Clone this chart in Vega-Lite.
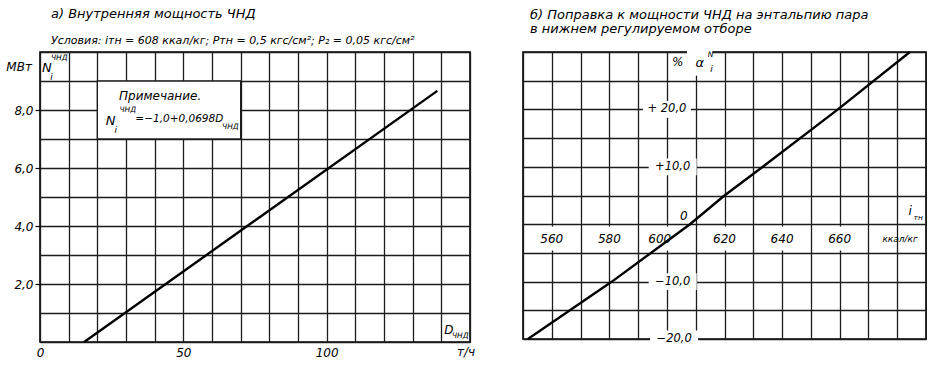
{
  "$schema": "https://vega.github.io/schema/vega-lite/v6.json",
  "padding": {"top": 7, "left": 0, "right": 0, "bottom": 0},
  "background": "white",
  "spacing": 46,
  "config": {
    "font": "DejaVu Sans",
    "view": {"stroke": "#000", "strokeWidth": 1.6},
    "axis": {"gridColor": "#1c1c1c", "gridWidth": 1.3, "gridOpacity": 1, "domain": false, "labelFont": "DejaVu Sans", "labelFontStyle": "italic", "labelColor": "#000", "labelFontSize": 12, "labelOverlap": false},
    "text": {"font": "DejaVu Sans", "fontStyle": "italic", "color": "#000"},
    "title": {"font": "DejaVu Sans", "fontStyle": "italic", "fontWeight": "normal", "color": "#000", "subtitleFont": "DejaVu Sans", "subtitleFontStyle": "italic", "subtitleColor": "#000"}
  },
  "datasets": {
    "lline": [{"x": 15.4, "y": 0}, {"x": 138.6, "y": 8.66}],
    "lbox": [{"x": 20, "x2": 70, "y": 7, "y2": 9}],
    "lann": [
      {"x": -7.3, "y": 9.48, "text": "МВт", "kind": "main"},
      {"x": 2.4, "y": 9.45, "text": "N", "kind": "big"},
      {"x": 4.0, "y": 9.15, "text": "i", "kind": "sub"},
      {"x": 6.7, "y": 9.8, "text": "ЧНД", "kind": "sup"},
      {"x": 41.9, "y": 8.5, "text": "Примечание.", "kind": "main"},
      {"x": 24.6, "y": 7.63, "text": "N", "kind": "big"},
      {"x": 26.4, "y": 7.3, "text": "i", "kind": "sub"},
      {"x": 30.6, "y": 8.0, "text": "ЧНД", "kind": "sup"},
      {"x": 48.6, "y": 7.68, "text": "=−1,0+0,0698D", "kind": "mid"},
      {"x": 66.4, "y": 7.42, "text": "ЧНД", "kind": "sup"},
      {"x": 142.6, "y": 0.41, "text": "D", "kind": "main"},
      {"x": 146.6, "y": 0.2, "text": "ЧНД", "kind": "sup"},
      {"x": 148.6, "y": -0.36, "text": "т/ч", "kind": "main"}
    ],
    "rline": [{"x": 551.7, "y": -20}, {"x": 580.9, "y": -10}, {"x": 608, "y": 0}, {"x": 620, "y": 5}, {"x": 633.3, "y": 10}, {"x": 659.4, "y": 20}, {"x": 684.4, "y": 30}],
    "rx": [
      {"x": 560, "y": -2.5, "text": "560"},
      {"x": 580, "y": -2.5, "text": "580"},
      {"x": 597.5, "y": -2.5, "text": "600"},
      {"x": 620, "y": -2.5, "text": "620"},
      {"x": 640, "y": -2.5, "text": "640"},
      {"x": 660, "y": -2.5, "text": "660"}
    ],
    "ry": [
      {"x": 600, "y": 20, "text": "+ 20,0"},
      {"x": 602, "y": 10, "text": "+10,0"},
      {"x": 602, "y": -10, "text": "−10,0"},
      {"x": 602.5, "y": -20, "text": "−20,0"}
    ],
    "rann": [
      {"x": 605.9, "y": 1.4, "text": "0", "kind": "main"},
      {"x": 684.5, "y": 2.3, "text": "i", "kind": "main"},
      {"x": 687.3, "y": 1.0, "text": "тн", "kind": "sup"},
      {"x": 681, "y": -2.5, "text": "ккал/кг", "kind": "sub"},
      {"x": 603.7, "y": 28.3, "text": "%", "kind": "main"},
      {"x": 611.4, "y": 28.1, "text": "α", "kind": "big"},
      {"x": 615.2, "y": 29.5, "text": "N", "kind": "sup"},
      {"x": 615.5, "y": 27.1, "text": "i", "kind": "sub"}
    ],
    "raxis": [{"x": 608}]
  },
  "hconcat": [
    {
      "width": 430,
      "height": 290,
      "title": {"text": "а) Внутренняя мощность ЧНД", "subtitle": "Условия: iтн = 608 ккал/кг;  Pтн = 0,5 кгс/см²;  P₂ = 0,05 кгс/см²", "anchor": "start", "frame": "group", "dx": 11, "fontSize": 13, "subtitleFontSize": 11, "subtitlePadding": 14, "offset": 0},
      "encoding": {
        "x": {"field": "x", "type": "quantitative", "scale": {"domain": [0, 150], "nice": false, "zero": false},
          "axis": {"title": null, "values": [0, 10, 20, 30, 40, 50, 60, 70, 80, 90, 100, 110, 120, 130, 140, 150], "grid": true, "ticks": false, "labelPadding": 5, "labelFlush": false,
            "labelExpr": "datum.value == 0 || datum.value == 50 || datum.value == 100 ? toString(datum.value) : ''"}},
        "y": {"field": "y", "type": "quantitative", "scale": {"domain": [0, 10], "nice": false},
          "axis": {"title": null, "values": [0, 1, 2, 3, 4, 5, 6, 7, 8, 9, 10], "grid": true, "ticks": true, "tickSize": 5, "tickColor": "#000", "tickWidth": 1.2,
            "tickOpacity": {"condition": {"test": "datum.value % 2 == 0 && datum.value > 0 && datum.value < 10", "value": 1}, "value": 0},
            "labelPadding": 2, "minExtent": 39, "maxExtent": 39, "labelFlush": false,
            "labelExpr": "datum.value % 2 == 0 && datum.value > 0 && datum.value < 10 ? replace(format(datum.value, '.1f'), '.', ',') : ''"}}
      },
      "layer": [
        {"data": {"name": "lbox"}, "mark": {"type": "rect", "fill": "white", "stroke": "#1c1c1c", "strokeWidth": 1.3}, "encoding": {"x2": {"field": "x2"}, "y2": {"field": "y2"}}},
        {"data": {"name": "lline"}, "mark": {"type": "line", "color": "#000", "strokeWidth": 2.4}, "encoding": {}},
        {"data": {"name": "lann"}, "mark": {"type": "text", "align": "center", "baseline": "middle"},
          "encoding": {"text": {"field": "text"}, "size": {"field": "kind", "type": "ordinal", "scale": {"type": "ordinal", "domain": ["big", "main", "mid", "sub", "sup"], "range": [13, 12, 10.5, 9, 7.5]}, "legend": null}}}
      ]
    },
    {
      "width": 403,
      "height": 287,
      "title": {"text": ["б) Поправка к мощности ЧНД на энтальпию пара", "\u00a0\u00a0в нижнем регулируемом отборе"], "anchor": "start", "frame": "group", "dx": 7, "fontSize": 13, "lineHeight": 14, "offset": 11},
      "encoding": {
        "x": {"field": "x", "type": "quantitative", "scale": {"domain": [550, 690], "nice": false, "zero": false},
          "axis": {"title": null, "values": [550, 560, 570, 580, 590, 600, 610, 620, 630, 640, 650, 660, 670, 680, 690], "grid": true, "ticks": false, "labels": false, "minExtent": 0, "maxExtent": 0}},
        "y": {"field": "y", "type": "quantitative", "scale": {"domain": [-20, 30], "nice": false, "zero": false},
          "axis": {"title": null, "values": [-20, -15, -10, -5, 0, 5, 10, 15, 20, 25, 30], "grid": true, "ticks": false, "labels": false, "minExtent": 0, "maxExtent": 0}}
      },
      "layer": [
        {"data": {"name": "rx"}, "mark": {"type": "point", "shape": "square", "size": 576, "filled": true, "fill": "white", "opacity": 1, "strokeWidth": 0}},
        {"data": {"name": "ry"}, "mark": {"type": "point", "shape": "M-1,-0.35H1V0.35H-1Z", "size": 2304, "filled": true, "fill": "white", "opacity": 1, "strokeWidth": 0}},
        {"data": {"name": "rann"}, "transform": [{"filter": "datum.text == 'α'"}], "mark": {"type": "point", "shape": "square", "size": 650, "filled": true, "fill": "white", "opacity": 1, "strokeWidth": 0}},
        {"data": {"name": "raxis"}, "mark": {"type": "rule", "color": "#000", "strokeWidth": 2}, "encoding": {"y": {"datum": -20}, "y2": {"datum": 30}}},
        {"data": {"name": "rline"}, "mark": {"type": "line", "color": "#000", "strokeWidth": 2.4}, "encoding": {}},
        {"data": {"name": "rx"}, "mark": {"type": "text", "align": "center", "baseline": "middle", "fontSize": 12}, "encoding": {"text": {"field": "text"}}},
        {"data": {"name": "ry"}, "mark": {"type": "text", "align": "center", "baseline": "middle", "fontSize": 11.5}, "encoding": {"text": {"field": "text"}}},
        {"data": {"name": "rann"}, "mark": {"type": "text", "align": "center", "baseline": "middle"},
          "encoding": {"text": {"field": "text"}, "size": {"field": "kind", "type": "ordinal", "scale": {"type": "ordinal", "domain": ["big", "main", "mid", "sub", "sup"], "range": [13, 12, 10.5, 9, 7.5]}, "legend": null}}}
      ]
    }
  ]
}
